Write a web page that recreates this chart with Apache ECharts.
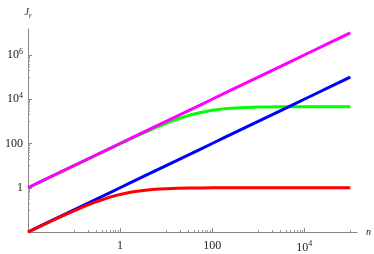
<!DOCTYPE html>
<html>
<head>
<meta charset="utf-8">
<script src="https://cdn.jsdelivr.net/npm/echarts@6/dist/echarts.min.js"></script>
<style>
html,body{margin:0;padding:0;background:#fff;}
#c{width:374px;height:254px;}
</style>
</head>
<body>
<div id="c"></div>
<script>
// sample points (n), quarter decades from 0.01 to 1e5
var nValues = [0.01,0.0178,0.0316,0.0562,0.1,0.178,0.316,0.562,1,1.78,3.16,5.62,10,17.8,31.6,56.2,100,178,316,562,1000,1778,3162,5623,10000,17783,31623,56234,100000];
var magentaValues = [1,1.78,3.16,5.62,10,17.8,31.6,56.2,100,178,316,562,1000,1780,3160,5620,10000,17800,31600,56200,100000,177800,316200,562300,1000000,1778300,3162300,5623400,10000000];
var greenValues = [1.0,1.78,3.16,5.61,9.98,17.7,31.4,55.5,97.9,171,296,501,823,1287,1880,2542,3170,3681,4046,4287,4435,4524,4573,4604,4620,4628,4633,4636,4638];
var blueValues = [0.01,0.0178,0.0316,0.0562,0.1,0.178,0.316,0.562,1,1.78,3.16,5.62,10,17.8,31.6,56.2,100,178,316,562,1000,1778,3162,5623,10000,17783,31623,56234,100000];
var redValues = [0.0099,0.0175,0.0306,0.0532,0.0909,0.151,0.240,0.360,0.5,0.640,0.760,0.849,0.909,0.947,0.969,0.983,0.990,0.994,0.997,0.998,0.999,0.9994,0.9997,0.9998,0.9999,1,1,1,1];

var xMajorTicks = [1,100,10000];
var xMinorTicks = [0.1,0.2,0.3,0.4,0.5,0.6,0.7,0.8,0.9,10,20,30,40,50,60,70,80,90,1000,2000,3000,4000,5000,6000,7000,8000,9000,100000];
var yMajorTicks = [1,100,10000,1000000];
var yMinorTicks = [0.1,0.2,0.3,0.4,0.5,0.6,0.7,0.8,0.9,10,20,30,40,50,60,70,80,90,1000,2000,3000,4000,5000,6000,7000,8000,9000,100000,200000,300000,400000,500000,600000,700000,800000,900000];

var SERIF = '"Liberation Serif", "DejaVu Serif", serif';
function pairs(ys){ return nValues.map(function(n,i){ return [n, ys[i]]; }); }
function fmt(v){
  var e = Math.round(Math.log10(v));
  if (e <= 2) return '{b|' + String(Math.round(v)) + '}';
  return '{b|10}{s|' + e + '}';
}
var labelRich = {
  b: { fontSize: 12, fontFamily: SERIF, color: '#222' },
  s: { fontSize: 8, verticalAlign: 'bottom', padding:[0,0,7,0], fontFamily: SERIF, color:'#222' }
};
var X_MIN = 0.01, X_MAX = 140000, Y_MIN = 0.01, Y_MAX = 15000000;
var axisLineStyle = { color: '#888', width: 1 };

var chart = echarts.init(document.getElementById('c'), null, {renderer:'canvas'});
chart.setOption({
  animation: false,
  backgroundColor: '#fff',
  textStyle: { fontFamily: SERIF },
  grid: { left: 28, right: 17, top: 29, bottom: 22, containLabel: false },
  xAxis: [{
    type: 'log', logBase: 10, min: X_MIN, max: X_MAX,
    name: 'n', nameLocation: 'end', nameGap: 9,
    nameTextStyle: { fontFamily: SERIF, fontStyle: 'italic', fontSize: 10, color: '#222' },
    axisLine: { show: true, lineStyle: axisLineStyle },
    axisTick: { show: true, inside: true, length: 4, lineStyle: { color: '#888' }, customValues: xMajorTicks },
    axisLabel: { show: true, customValues: xMajorTicks, formatter: fmt, margin: 8, fontFamily: SERIF, fontSize: 12, color: '#222', rich: labelRich },
    splitLine: { show: false }, minorTick: { show: false }
  },{
    type: 'log', logBase: 10, min: X_MIN, max: X_MAX, position: 'bottom',
    axisLine: { show: false },
    axisTick: { show: true, inside: true, length: 2, lineStyle: { color: '#999' }, customValues: xMinorTicks },
    axisLabel: { show: false }, splitLine: { show: false }
  }],
  yAxis: [{
    type: 'log', logBase: 10, min: Y_MIN, max: Y_MAX,
    name: 'J{g|γ}', nameLocation: 'end', nameGap: 10,
    nameTextStyle: { fontFamily: SERIF, fontStyle: 'italic', fontSize: 10, color: '#222',
      rich: { g: { fontFamily: SERIF, fontStyle: 'italic', fontSize: 7, verticalAlign: 'top', padding:[6,0,0,0], color:'#222' } } },
    axisLine: { show: true, lineStyle: axisLineStyle },
    axisTick: { show: true, inside: true, length: 4, lineStyle: { color: '#888' }, customValues: yMajorTicks },
    axisLabel: { show: true, customValues: yMajorTicks, formatter: fmt, margin: 5, fontFamily: SERIF, fontSize: 12, color: '#222', rich: labelRich },
    splitLine: { show: false }
  },{
    type: 'log', logBase: 10, min: Y_MIN, max: Y_MAX, position: 'left',
    axisLine: { show: false },
    axisTick: { show: true, inside: true, length: 2, lineStyle: { color: '#999' }, customValues: yMinorTicks },
    axisLabel: { show: false }, splitLine: { show: false }
  }],
  series: [
    { type: 'line', data: pairs(magentaValues), showSymbol: false, lineStyle: { color: '#ff00ff', width: 3 }, z: 3 },
    { type: 'line', data: pairs(greenValues), showSymbol: false, lineStyle: { color: '#00ff00', width: 3 }, z: 2 },
    { type: 'line', data: pairs(blueValues), showSymbol: false, lineStyle: { color: '#0000ff', width: 3 }, z: 4 },
    { type: 'line', data: pairs(redValues), showSymbol: false, lineStyle: { color: '#ff0000', width: 3 }, z: 5 }
  ]
});
</script>
</body>
</html>
